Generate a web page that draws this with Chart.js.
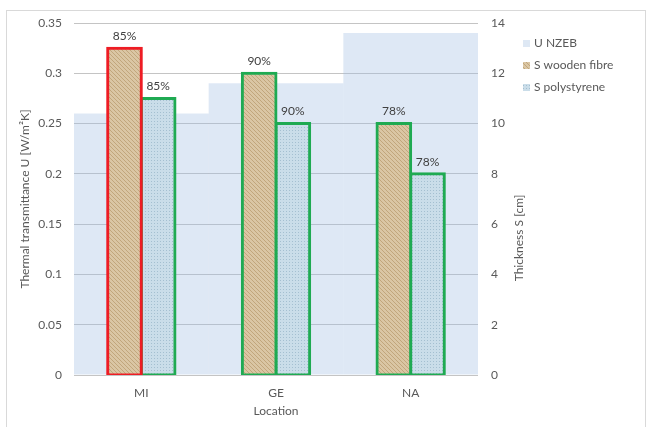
<!DOCTYPE html>
<html><head><meta charset="utf-8">
<script src="https://cdn.jsdelivr.net/npm/chart.js@4.4.1/dist/chart.umd.min.js"></script>
<style>
html,body{margin:0;padding:0;background:#fff;}
#wrap{position:relative;width:647px;height:427px;overflow:hidden;}
#frame{position:absolute;left:6px;top:10px;width:640px;height:440px;border:1px solid #d9d9d9;box-sizing:border-box;}
canvas{position:absolute;left:0;top:0;}
</style></head><body>
<div id="wrap"><div id="frame"></div><canvas id="c" width="647" height="427"></canvas></div>
<script>
const categories = ['MI', 'GE', 'NA'];
const uNzeb = [0.26, 0.29, 0.34];
const sWood = [13, 12, 10];
const sPoly = [11, 10, 8];
const woodLabels = ['85%', '90%', '78%'];
const polyLabels = ['85%', '90%', '78%'];
const seriesNames = ['U NZEB', 'S wooden fibre', 'S polystyrene'];
const leftAxisTicks = [0, 0.05, 0.1, 0.15, 0.2, 0.25, 0.3, 0.35];
const rightAxisTicks = [0, 2, 4, 6, 8, 10, 12, 14];

const FONT = 'Lato, "Open Sans", sans-serif';
const TXT = '#595959';

function woodPattern() {
  const c = document.createElement('canvas'); c.width = 4; c.height = 4;
  const g = c.getContext('2d');
  g.fillStyle = '#dac6a4'; g.fillRect(0, 0, 4, 4);
  g.fillStyle = '#c1a67c';
  for (let i = 0; i < 4; i++) { g.fillRect(i, i, 1, 1); }
  return g.createPattern(c, 'repeat');
}
function polyPattern() {
  const c = document.createElement('canvas'); c.width = 3; c.height = 3;
  const g = c.getContext('2d');
  g.fillStyle = '#cadde9'; g.fillRect(0, 0, 3, 3);
  g.fillStyle = '#a4bfd0'; g.fillRect(1, 1, 1, 1);
  return g.createPattern(c, 'repeat');
}
const woodFill = woodPattern();
const polyFill = polyPattern();
const nzebFill = 'rgba(160,190,225,0.35)';

const overlay = {
  id: 'overlay',
  afterDatasetsDraw(chart) {
    const ctx = chart.ctx;
    ctx.save();
    ctx.font = '12px ' + FONT;
    ctx.fillStyle = '#404040';
    ctx.textAlign = 'center';
    ctx.textBaseline = 'middle';
    [[1, woodLabels], [2, polyLabels]].forEach(([di, labs]) => {
      chart.getDatasetMeta(di).data.forEach((bar, i) => {
        ctx.fillText(labs[i], bar.x, bar.y - 12);
      });
    });
    ctx.fillStyle = TXT;
    ctx.translate(519, 238);
    ctx.rotate(-Math.PI / 2);
    ctx.fillText('Thickness S [cm]', 0, 0);
    ctx.restore();
    ctx.save();
    ctx.font = '12px ' + FONT;
    ctx.textBaseline = 'middle';
    ctx.textAlign = 'left';
    const fills = ['#dee8f4', woodFill, polyFill];
    const ys = [43, 65, 87];
    for (let i = 0; i < 3; i++) {
      ctx.fillStyle = fills[i];
      ctx.fillRect(523, ys[i] - 3, 7, 7);
      ctx.fillStyle = TXT;
      ctx.fillText(seriesNames[i], 534, ys[i] + 0.5);
    }
    ctx.restore();
  }
};

new Chart(document.getElementById('c'), {
  type: 'bar',
  data: {
    labels: categories,
    datasets: [
      { label: seriesNames[0], data: uNzeb, yAxisID: 'y', grouped: false,
        backgroundColor: nzebFill, borderWidth: 0, barPercentage: 1, categoryPercentage: 1, order: 2, inflateAmount: 0 },
      { label: seriesNames[1], data: sWood, yAxisID: 'y2', backgroundColor: woodFill,
        borderColor: ['#ee1c24', '#1faa52', '#1faa52'], borderWidth: 3, borderSkipped: false,
        barPercentage: 1, categoryPercentage: 0.5, order: 1, inflateAmount: 1.5 },
      { label: seriesNames[2], data: sPoly, yAxisID: 'y2', backgroundColor: polyFill,
        borderColor: '#1faa52', borderWidth: 3, borderSkipped: false,
        barPercentage: 1, categoryPercentage: 0.5, order: 1, inflateAmount: 1.5 }
    ]
  },
  options: {
    responsive: false,
    animation: false,
    layout: { padding: { left: 14, right: 109, top: 23, bottom: 5 } },
    plugins: { legend: { display: false }, tooltip: { enabled: false } },
    scales: {
      x: {
        grid: { display: false }, border: { display: false },
        ticks: { color: TXT, font: { family: FONT, size: 12 }, padding: 3 },
        title: { display: true, text: 'Location', color: TXT, font: { family: FONT, size: 12 } },
        afterFit(s) { s.height = 47; }
      },
      y: {
        position: 'left', min: 0, max: 0.35,
        afterBuildTicks(s) { s.ticks = leftAxisTicks.map(v => ({ value: v })); },
        grid: { color: '#c4c4c4', drawTicks: false }, border: { display: false },
        ticks: { color: TXT, font: { family: FONT, size: 12 }, padding: 12,
          callback: v => String(Number(v.toFixed(2))) },
        title: { display: true, text: 'Thermal transmittance U [W/m²K]', color: TXT, font: { family: FONT, size: 12 } },
        afterFit(s) { s.width = 60; }
      },
      y2: {
        position: 'right', min: 0, max: 14,
        afterBuildTicks(s) { s.ticks = rightAxisTicks.map(v => ({ value: v })); },
        grid: { display: false, drawTicks: false }, border: { display: false },
        ticks: { color: TXT, font: { family: FONT, size: 12 }, padding: 13 },
        afterFit(s) { s.width = 60; }
      }
    }
  },
  plugins: [overlay]
});
</script>
</body></html>
